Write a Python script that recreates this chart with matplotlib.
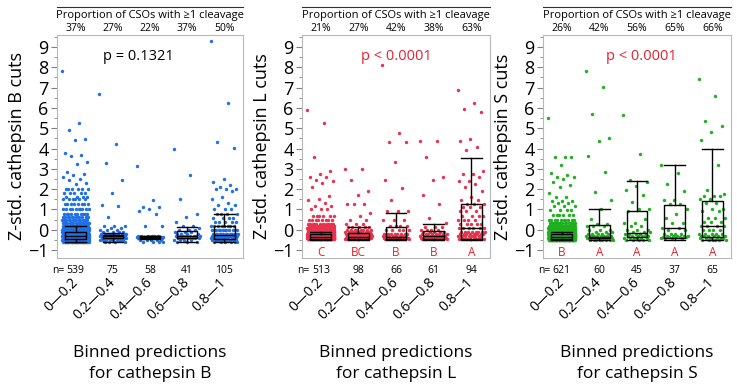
import matplotlib
matplotlib.use("Agg")
import matplotlib.pyplot as plt
import matplotlib.transforms as mtransforms
import numpy as np
from matplotlib.ticker import MultipleLocator

plt.rcParams["font.family"] = ["Open Sans", "DejaVu Sans"]

# -- shared labels -------------------------------------------------------------
BIN_LABELS = ["0\u20140.2", "0.2\u20140.4", "0.4\u20140.6", "0.6\u20140.8", "0.8\u20141"]
ENZYMES = ["B", "L", "S"]

# -- header proportions and counts ---------------------------------------------
B_PROP = ["37%", "27%", "22%", "37%", "50%"]
L_PROP = ["21%", "27%", "42%", "38%", "63%"]
S_PROP = ["26%", "42%", "56%", "65%", "66%"]

B_N = [539, 75, 58, 41, 105]
L_N = [513, 98, 66, 61, 94]
S_N = [621, 60, 45, 37, 65]

P_TEXT = ["p = 0.1321", "p < 0.0001", "p < 0.0001"]
L_LETTERS = ["C", "BC", "B", "B", "A"]
S_LETTERS = ["B", "A", "A", "A", "A"]

# -- box statistics ------------------------------------------------------------
B_WLO = [-0.6, -0.6, -0.45, -0.6, -0.6]
B_Q1 = [-0.45, -0.4, -0.42, -0.4, -0.45]
B_MED = [-0.3, -0.33, -0.38, -0.3, -0.25]
B_Q3 = [-0.1, -0.25, -0.33, -0.05, 0.2]
B_WHI = [0.2, -0.15, -0.3, 0.15, 0.8]

L_WLO = [-0.5, -0.5, -0.5, -0.5, -0.5]
L_Q1 = [-0.45, -0.45, -0.45, -0.45, -0.45]
L_MED = [-0.35, -0.35, -0.35, -0.3, 0.1]
L_Q3 = [-0.2, -0.15, 0.15, -0.05, 1.25]
L_WHI = [-0.1, 0.15, 0.85, 0.3, 3.55]

S_WLO = [-0.5, -0.5, -0.5, -0.5, -0.5]
S_Q1 = [-0.45, -0.4, -0.35, -0.4, -0.35]
S_MED = [-0.35, -0.35, -0.15, 0.1, 0.2]
S_Q3 = [-0.2, 0.25, 0.9, 1.2, 1.4]
S_WHI = [-0.1, 1.0, 2.4, 3.2, 4.0]

# -- individual points per bin: (value, count) ---------------------------------
B_PTS = [
    [(7.8, 1), (5.25, 1), (4.9, 1), (4.45, 1), (4.4, 1), (3.8, 1), (3.7, 1), (3.65, 1),
     (3.35, 1), (3.25, 1), (2.85, 1), (2.75, 1), (2.7, 1), (2.6, 1), (2.5, 1), (2.45, 1),
     (2.3, 1), (2.25, 1), (2.0, 6), (1.8, 5), (1.6, 4), (1.5, 6), (1.25, 8), (1.0, 10),
     (0.8, 10), (0.65, 12), (0.5, 15), (0.35, 18), (0.2, 25), (0.1, 30), (0.0, 40),
     (-0.1, 50), (-0.2, 60), (-0.3, 70), (-0.4, 70), (-0.5, 60), (-0.58, 30)],
    [(6.7, 1), (4.2, 1), (3.3, 1), (2.45, 1), (1.8, 1), (1.2, 1), (1.15, 1), (0.65, 1),
     (0.2, 3), (0.1, 2), (0.0, 3), (-0.1, 4), (-0.2, 10), (-0.3, 20), (-0.4, 15),
     (-0.5, 10), (-0.6, 4)],
    [(3.15, 1), (1.45, 1), (1.1, 2), (1.0, 1), (0.9, 1), (0.8, 1), (0.2, 2), (-0.3, 6),
     (-0.35, 25), (-0.4, 10), (-0.5, 5), (-0.6, 4)],
    [(4.0, 1), (2.7, 1), (1.5, 1), (0.8, 1), (0.65, 1), (0.4, 1), (0.2, 2), (0.1, 1),
     (0.0, 3), (-0.1, 3), (-0.2, 4), (-0.3, 8), (-0.4, 6), (-0.5, 4), (-0.6, 3)],
    [(9.3, 1), (6.25, 1), (4.3, 1), (4.05, 1), (2.5, 1), (2.35, 1), (2.2, 1), (2.1, 1),
     (2.0, 3), (1.9, 1), (1.6, 1), (1.5, 1), (1.3, 1), (1.2, 2), (1.0, 3), (0.8, 4),
     (0.6, 4), (0.4, 5), (0.2, 8), (0.0, 12), (-0.2, 15), (-0.3, 15), (-0.4, 12),
     (-0.5, 10), (-0.6, 6)],
]

L_PTS = [
    [(5.9, 1), (5.25, 1), (3.6, 1), (2.9, 1), (2.75, 1), (2.6, 2), (2.45, 1), (2.4, 1),
     (2.3, 1), (2.1, 1), (1.65, 1), (1.5, 1), (1.45, 1), (1.3, 1), (1.15, 2), (1.0, 3),
     (0.7, 6), (0.5, 8), (0.3, 12), (0.2, 20), (0.1, 30), (0.0, 40), (-0.1, 60),
     (-0.2, 80), (-0.3, 100), (-0.4, 100), (-0.47, 40)],
    [(3.0, 2), (2.45, 1), (1.9, 1), (1.7, 1), (1.25, 3), (0.85, 1), (0.7, 1), (0.5, 2),
     (0.3, 3), (0.15, 5), (0.0, 8), (-0.1, 10), (-0.2, 12), (-0.3, 15), (-0.4, 20),
     (-0.47, 12)],
    [(8.1, 1), (4.75, 1), (4.3, 2), (3.35, 1), (2.45, 1), (2.05, 1), (1.45, 1), (0.9, 3),
     (0.5, 3), (0.2, 4), (0.0, 5), (-0.2, 8), (-0.3, 10), (-0.4, 12), (-0.47, 8)],
    [(4.35, 2), (3.6, 1), (2.6, 1), (2.45, 1), (1.7, 1), (1.25, 1), (0.6, 1), (0.35, 1),
     (0.15, 3), (0.0, 4), (-0.1, 5), (-0.2, 8), (-0.3, 10), (-0.4, 12), (-0.47, 10)],
    [(6.9, 1), (6.25, 1), (5.95, 1), (5.8, 1), (4.45, 1), (4.35, 1), (4.1, 1), (3.95, 1),
     (2.9, 1), (2.75, 2), (2.6, 1), (2.4, 2), (2.25, 1), (2.1, 1), (1.9, 1), (1.6, 1),
     (1.45, 2), (1.25, 3), (1.1, 3), (0.9, 3), (0.7, 4), (0.5, 4), (0.3, 5), (0.1, 6),
     (-0.1, 8), (-0.2, 8), (-0.3, 10), (-0.45, 10)],
]

S_PTS = [
    [(5.5, 1), (3.6, 3), (3.2, 1), (2.8, 1), (2.7, 1), (2.6, 2), (2.5, 1), (2.35, 1),
     (2.2, 1), (2.1, 1), (1.8, 1), (1.6, 2), (1.4, 3), (1.3, 2), (1.15, 3), (0.95, 4),
     (0.75, 6), (0.5, 10), (0.35, 15), (0.2, 25), (0.1, 35), (0.0, 50), (-0.1, 70),
     (-0.2, 90), (-0.3, 110), (-0.4, 110), (-0.5, 60)],
    [(7.8, 1), (7.05, 1), (5.7, 1), (4.5, 1), (4.35, 1), (3.65, 1), (2.85, 1), (1.85, 1),
     (1.45, 1), (1.0, 1), (0.55, 1), (0.3, 2), (0.2, 3), (0.0, 3), (-0.1, 3), (-0.2, 5),
     (-0.3, 10), (-0.4, 12), (-0.5, 8)],
    [(5.65, 1), (3.75, 1), (2.45, 1), (2.35, 1), (2.15, 1), (1.95, 1), (1.7, 1), (1.35, 1),
     (1.0, 2), (0.9, 1), (0.55, 1), (0.35, 2), (0.2, 2), (0.0, 3), (-0.1, 3), (-0.2, 5),
     (-0.3, 6), (-0.4, 6), (-0.5, 5)],
    [(3.2, 1), (2.8, 1), (2.25, 1), (1.9, 1), (1.45, 2), (1.25, 2), (1.0, 1), (0.8, 1),
     (0.6, 1), (0.35, 2), (0.1, 2), (0.0, 2), (-0.2, 4), (-0.3, 5), (-0.35, 5), (-0.4, 4)],
    [(7.4, 1), (6.6, 1), (5.35, 1), (5.1, 1), (4.8, 1), (4.4, 1), (3.2, 1), (1.95, 1),
     (1.75, 1), (1.65, 3), (1.5, 2), (1.3, 2), (1.0, 2), (0.9, 2), (0.6, 3), (0.4, 3),
     (0.2, 4), (0.0, 4), (-0.2, 5), (-0.3, 6), (-0.4, 6), (-0.5, 6)],
]

POINT_COLORS = ["#1f6fe6", "#e8334f", "#1fb01f"]
RED = "#e8202a"

PANELS = [
    (B_PTS, B_PROP, B_N, (B_WLO, B_Q1, B_MED, B_Q3, B_WHI), None),
    (L_PTS, L_PROP, L_N, (L_WLO, L_Q1, L_MED, L_Q3, L_WHI), L_LETTERS),
    (S_PTS, S_PROP, S_N, (S_WLO, S_Q1, S_MED, S_Q3, S_WHI), S_LETTERS),
]

AX_LEFT = [57, 302, 543]
AX_W = [186, 188, 188]
FIG_W, FIG_H = 737, 391
AX_TOP, AX_BOT = 35, 258

fig = plt.figure(figsize=(7.37, 3.91), dpi=100)

for k, (pts, prop, ns, box, letters) in enumerate(PANELS):
    ax = fig.add_axes([AX_LEFT[k] / FIG_W, 1 - AX_BOT / FIG_H,
                       AX_W[k] / FIG_W, (AX_BOT - AX_TOP) / FIG_H])
    ax.set_xlim(-0.5, 4.5)
    ax.set_ylim(-1.39, 9.59)

    # jittered points
    for i, pairs in enumerate(pts):
        vals = np.array([v for v, c in pairs for _ in range(c)])
        jit = ((np.arange(len(vals)) * 0.618034) % 1 - 0.5) * 0.72
        ax.scatter(i + jit, vals, s=6, color=POINT_COLORS[k], linewidths=0, zorder=2)

    # box plots from read-off statistics
    wlo, q1, med, q3, whi = box
    stats = [dict(whislo=wlo[i], q1=q1[i], med=med[i], q3=q3[i], whishi=whi[i])
             for i in range(5)]
    line = dict(color="black", linewidth=1.0)
    ax.bxp(stats, positions=range(5), widths=0.55, capwidths=0.55,
           showfliers=False, boxprops=line, whiskerprops=line,
           capprops=line, medianprops=line, manage_ticks=False, zorder=3)

    # axes styling
    for sp in ax.spines.values():
        sp.set_color("#b8b8b8")
    ax.yaxis.set_major_locator(MultipleLocator(1))
    ax.yaxis.set_minor_locator(MultipleLocator(0.5))
    ax.tick_params(axis="y", which="major", labelsize=13, length=4, color="#808080", pad=2)
    ax.tick_params(axis="y", which="minor", length=2.5, color="#808080")
    ax.set_xticks(range(5))
    ax.set_xticklabels(BIN_LABELS, rotation=45, ha="right", va="center",
                       rotation_mode="anchor", fontsize=10)
    ax.tick_params(axis="x", length=0, pad=16)

    ax.text(-40 / AX_W[k], 0.5, f"Z-std. cathepsin {ENZYMES[k]} cuts",
            rotation=90, ha="center", va="center", fontsize=13, transform=ax.transAxes)

    # header above the panel
    ax.plot([0, 1], [1.1256, 1.1256], transform=ax.transAxes, clip_on=False,
            color="#303030", linewidth=0.8)
    ax.text(0.5, 1.088, "Proportion of CSOs with \u22651 cleavage", ha="center", va="center",
            fontsize=8, transform=ax.transAxes)
    trans = mtransforms.blended_transform_factory(ax.transData, ax.transAxes)
    for i in range(5):
        ax.text(i, 1.027, prop[i], ha="center", va="center", fontsize=7.5, transform=trans)
        ax.text(i, -0.054, str(ns[i]), ha="center", va="center", fontsize=7.5, transform=trans)
    ax.text(-0.3, -0.054, "n=", ha="right", va="center", fontsize=7.5, transform=trans)

    if letters:
        for i, lt in enumerate(letters):
            ax.text(i, -1.1, lt, ha="center", va="center", fontsize=8.5, color=RED)

    p_x = [0.435, 0.504, 0.525][k]
    ax.text(p_x, 0.905, P_TEXT[k], ha="center", va="center", fontsize=10.5,
            color="black" if k == 0 else RED, transform=ax.transAxes)

    ax.text(0.5, -0.473, f"Binned predictions\nfor cathepsin {ENZYMES[k]}",
            ha="center", va="center", fontsize=12.5, linespacing=1.35,
            transform=ax.transAxes)

fig.savefig("out.png", dpi=100)
